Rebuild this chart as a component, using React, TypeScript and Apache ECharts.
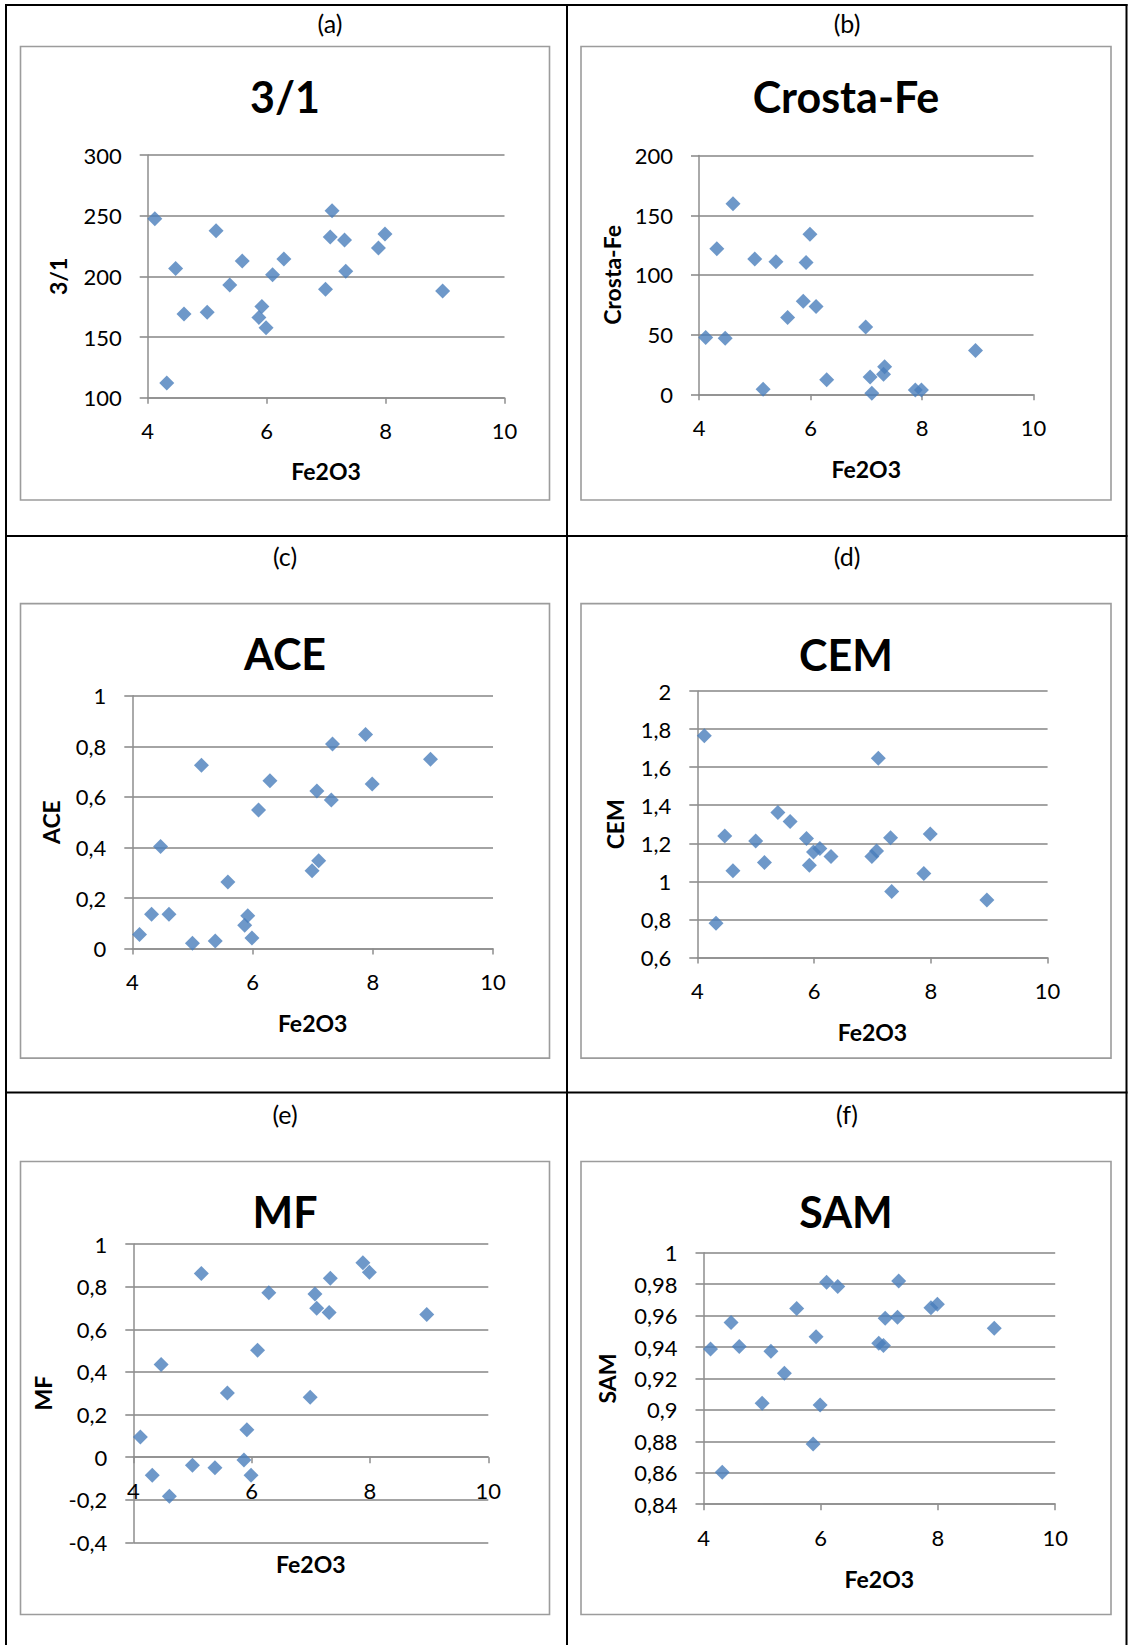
import React, { useEffect, useRef } from "react";
import * as echarts from "echarts";

// ---- data ----
const fe2o3 = [4.12, 4.32, 4.47, 4.61, 5.0, 5.15, 5.38, 5.59, 5.87, 5.92, 5.99, 6.1, 6.29, 6.99, 7.07, 7.1, 7.31, 7.33, 7.88, 7.99, 8.96];
const ratio31 = [247.5, 112.2, 206.4, 169, 170.4, 237.6, 192.8, 212.6, 166.1, 175.2, 157.6, 201.3, 214.3, 189.4, 232.5, 254, 230, 204.1, 223.4, 234.8, 188];
const crostaFe = [47.6, 122, 47, 159.6, 113.4, 4.3, 111, 64.4, 77.9, 110.5, 134.2, 73.6, 12.1, 56.3, 14.4, 0.9, 16.7, 23.1, 3.5, 3.5, 36.7];
const ace = [0.056, 0.136, 0.404, 0.136, 0.021, 0.725, 0.03, 0.263, 0.092, 0.13, 0.042, 0.548, 0.664, 0.308, 0.623, 0.347, 0.588, 0.809, 0.847, 0.651, 0.749];
const cem = [1.765, 0.78, 1.238, 1.056, 1.212, 1.099, 1.362, 1.315, 1.225, 1.084, 1.154, 1.172, 1.131, 1.131, 1.159, 1.647, 1.229, 0.947, 1.041, 1.249, 0.902];
const mf = [0.095, -0.085, 0.435, -0.184, -0.038, 0.862, -0.05, 0.301, -0.013, 0.128, -0.085, 0.502, 0.771, 0.281, 0.766, 0.698, 0.679, 0.839, 0.912, 0.867, 0.669];
const sam = [0.9387, 0.8603, 0.9556, 0.9403, 0.9042, 0.9374, 0.9234, 0.9646, 0.8783, 0.9466, 0.9031, 0.9813, 0.9786, 0.9425, 0.941, 0.9583, 0.959, 0.982, 0.965, 0.9673, 0.952];

const panelLabels = ["(a)", "(b)", "(c)", "(d)", "(e)", "(f)"];
const chartTitles = ["3/1", "Crosta-Fe", "ACE", "CEM", "MF", "SAM"];
const xAxisTitle = "Fe2O3";
const xRange = [4, 10, 2];
const yRanges = [
  [100, 300, 50],
  [0, 200, 50],
  [0, 1, 0.2],
  [0.6, 2, 0.2],
  [-0.4, 1, 0.2],
  [0.84, 1, 0.02],
];
const seriesValues = [ratio31, crostaFe, ace, cem, mf, sam];

// ---- layout (pixels) ----
const W = 1129;
const H = 1645;
const FONT = "Lato, 'Open Sans', sans-serif";
const GRID_COLOR = "#868686";
const AXIS_COLOR = "#8e8e8e";
const MARK = "#4A7EBB";

const layout = [
  { lx: 330, ly: 23, tx: 285, ty: 96.5, box: [20.5, 46.5, 529, 453.5], g: [147.7, 155, 356.8, 242.7], xGap: 61.5, yGap: 78, crossZero: false },
  { lx: 847, ly: 23, tx: 846, ty: 96.5, box: [581, 46.5, 530, 453.5], g: [699, 155.6, 334.5, 238.7], xGap: 63, yGap: 76, crossZero: false },
  { lx: 285, ly: 555.5, tx: 285, ty: 653.5, box: [20.5, 603.6, 529, 454.5], g: [132.3, 695.7, 360.7, 252.9], xGap: 63, yGap: 70, crossZero: false },
  { lx: 847, ly: 555.5, tx: 846, ty: 654.5, box: [581, 603.6, 530, 454.5], g: [697.3, 691, 350.3, 266.5], xGap: 63, yGap: 71, crossZero: false },
  { lx: 285, ly: 1114, tx: 285, ty: 1211.5, box: [20.5, 1161.5, 529, 453], g: [133.3, 1244, 355, 298.4], xGap: 95, yGap: 78.5, crossZero: true },
  { lx: 847, ly: 1114, tx: 846, ty: 1211.5, box: [581, 1161.5, 530, 453], g: [703.5, 1252.8, 351.7, 251.4], xGap: 63, yGap: 85, crossZero: false },
];

const fmt = (v: number) => String(Math.round(v * 10000) / 10000).replace(".", ",");

function buildOption() {
  const grid = layout.map((l) => ({
    left: l.g[0],
    top: l.g[1],
    width: l.g[2],
    height: l.g[3],
    containLabel: false,
    outerBoundsMode: "none",
  }));

  const nameStyle = { fontFamily: FONT, fontWeight: "bold", fontSize: 23, color: "#000" };
  const labelStyle = { fontFamily: FONT, fontSize: 22, color: "#000" };

  const xAxis = layout.map((l, i) => {
    const [ymin, ymax] = yRanges[i];
    // the horizontal axis crosses the vertical one at y = 0 when asked to
    const offset = l.crossZero ? -((0 - ymin) / (ymax - ymin)) * l.g[3] : 0;
    return {
      type: "value",
      gridIndex: i,
      min: xRange[0],
      max: xRange[1],
      interval: xRange[2],
      offset,
      name: xAxisTitle,
      nameLocation: "middle",
      nameGap: l.xGap,
      nameMoveOverlap: false,
      nameTextStyle: nameStyle,
      axisLine: { show: true, onZero: false, lineStyle: { color: AXIS_COLOR, width: 1.5 } },
      axisTick: { show: true, length: 6, lineStyle: { color: AXIS_COLOR, width: 1.5 } },
      axisLabel: { ...labelStyle, margin: 22, showMinLabel: true, showMaxLabel: true, formatter: fmt },
      splitLine: { show: false },
    };
  });

  const yAxis = layout.map((l, i) => ({
    type: "value",
    gridIndex: i,
    min: yRanges[i][0],
    max: yRanges[i][1],
    interval: yRanges[i][2],
    name: chartTitles[i],
    nameLocation: "middle",
    nameRotate: 90,
    nameGap: l.yGap,
    nameMoveOverlap: false,
    nameTextStyle: nameStyle,
    axisLine: { show: true, onZero: false, lineStyle: { color: AXIS_COLOR, width: 1.5 } },
    axisTick: { show: true, length: 8, lineStyle: { color: GRID_COLOR, width: 1.5 } },
    axisLabel: { ...labelStyle, margin: 26, showMinLabel: true, showMaxLabel: true, formatter: fmt },
    splitLine: { show: true, lineStyle: { color: GRID_COLOR, width: 1.5 } },
  }));

  const series = seriesValues.map((vals, i) => ({
    type: "scatter",
    name: chartTitles[i],
    xAxisIndex: i,
    yAxisIndex: i,
    symbol: "diamond",
    symbolSize: 15,
    itemStyle: { color: MARK },
    data: fe2o3.map((x, j) => [x, vals[j]]),
  }));

  const black = { stroke: "#000", lineWidth: 2 };
  const lines = [
    [6, 4, 6, H],
    [567, 4, 567, H],
    [1126.5, 4, 1126.5, H],
    [5, 5, 1127.5, 5],
    [5, 536, 1127.5, 536],
    [5, 1092.5, 1127.5, 1092.5],
  ].map(([x1, y1, x2, y2]) => ({ type: "line", shape: { x1, y1, x2, y2 }, style: black, silent: true }));

  const boxes = layout.map((l) => ({
    type: "rect",
    shape: { x: l.box[0], y: l.box[1], width: l.box[2], height: l.box[3] },
    style: { fill: "none", stroke: "#9c9c9c", lineWidth: 1.6 },
    silent: true,
  }));

  const labels = layout.map((l, i) => ({
    type: "text",
    x: l.lx,
    y: l.ly,
    style: {
      text: panelLabels[i],
      font: `25px ${FONT}`,
      fill: "#000",
      textAlign: "center",
      textVerticalAlign: "middle",
    },
  }));

  const titles = layout.map((l, i) => ({
    type: "text",
    x: l.tx,
    y: l.ty,
    style: {
      text: chartTitles[i],
      font: `bold 43px ${FONT}`,
      fill: "#000",
      textAlign: "center",
      textVerticalAlign: "middle",
    },
  }));

  return {
    animation: false,
    backgroundColor: "#fff",
    grid,
    xAxis,
    yAxis,
    series,
    graphic: [...boxes, ...lines, ...labels, ...titles],
  };
}

export default function App() {
  const ref = useRef<HTMLDivElement>(null);
  useEffect(() => {
    document.body.style.margin = "0";
    if (!ref.current) return;
    const chart = echarts.init(ref.current, null, { renderer: "svg" });
    chart.setOption(buildOption() as any);
    return () => chart.dispose();
  }, []);
  return <div ref={ref} style={{ width: W, height: H }} />;
}
